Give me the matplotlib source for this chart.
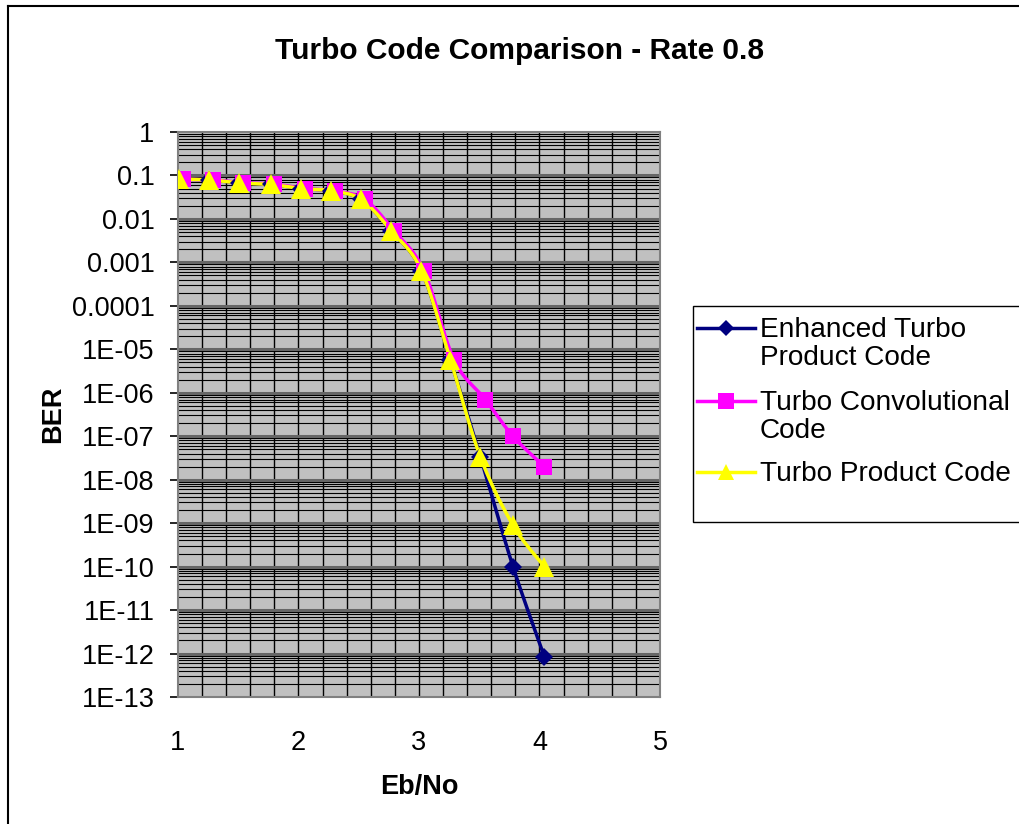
import numpy as np
import matplotlib
matplotlib.use("Agg")
import matplotlib.pyplot as plt
from matplotlib.lines import Line2D
from matplotlib.patches import Rectangle

plt.rcParams['font.family'] = ['Liberation Sans', 'DejaVu Sans']

# data
ebno = [1.01, 1.26, 1.51, 1.77, 2.02, 2.27, 2.52, 2.77, 3.02, 3.26, 3.51, 3.78, 4.04]
ebno_tcc = [1.04, 1.29, 1.54, 1.80, 2.05, 2.30, 2.55, 2.79, 3.04, 3.29, 3.55, 3.78, 4.04]
ber_etpc = [0.082, 0.079, 0.067, 0.062, 0.050, 0.044, 0.028, 0.0053, 6.5e-4, 5.8e-6, 3.3e-8, 1.0e-10, 8.5e-13]
ber_tcc = [0.082, 0.079, 0.068, 0.063, 0.050, 0.044, 0.028, 0.0054, 6.5e-4, 5.8e-6, 7.0e-7, 1.0e-7, 2.0e-8]
ber_tpc = [0.082, 0.079, 0.067, 0.062, 0.050, 0.044, 0.028, 0.0053, 6.5e-4, 5.8e-6, 3.3e-8, 9.0e-10, 1.0e-10]

names = ["Enhanced Turbo\nProduct Code", "Turbo Convolutional\nCode", "Turbo Product Code"]
colors = ["#000080", "#FF00FF", "#FFFF00"]
markers = ["D", "s", "^"]
ytick_labels = ["1", "0.1", "0.01", "0.001", "0.0001", "1E-05", "1E-06", "1E-07",
                "1E-08", "1E-09", "1E-10", "1E-11", "1E-12", "1E-13"]

W, H = 1020.0, 824.0


def fx(px):
    return px / W


def fy(py):
    return 1 - py / H


# Excel style smoothed line (Catmull-Rom through the points, in x / log y)
def smooth(x, y, n=20):
    px = np.array(x, dtype=float)
    py = np.log10(np.array(y, dtype=float))
    P = np.column_stack([px, py])
    P = np.vstack([P[0], P, P[-1]])
    out = []
    for i in range(1, len(P) - 2):
        p0, p1, p2, p3 = P[i - 1], P[i], P[i + 1], P[i + 2]
        c1 = p1 + (p2 - p0) / 6.0
        c2 = p2 - (p3 - p1) / 6.0
        t = np.linspace(0, 1, n)[:, None]
        seg = (1 - t) ** 3 * p1 + 3 * (1 - t) ** 2 * t * c1 + 3 * (1 - t) * t ** 2 * c2 + t ** 3 * p2
        out.append(seg)
    out = np.vstack(out)
    return out[:, 0], 10 ** out[:, 1]


fig = plt.figure(figsize=(10.2, 8.24), dpi=100)
ax = fig.add_axes([fx(178), fy(697), (660 - 178) / W, (697 - 132) / H])
ax.set_facecolor("#C0C0C0")
ax.set_yscale("log")
ax.set_xlim(1, 5)
ax.set_ylim(1e-13, 1)

# grid
for xv in np.arange(1.2, 5.0, 0.2):
    ax.axvline(xv, color="black", lw=1.0, zorder=1)
for k in range(-13, 0):
    for m in range(2, 10):
        ax.axhline(m * 10.0 ** k, color="black", lw=0.8, zorder=1)
    if k > -13:
        ax.axhline(10.0 ** k, color="#666666", lw=2.2, zorder=1)

series = [(ebno, ber_etpc), (ebno_tcc, ber_tcc), (ebno, ber_tpc)]
sizes = {"D": 9, "s": 12, "^": 14}
for (xs, ys), c, mk in zip(series, colors, markers):
    sx, sy = smooth(xs, ys)
    ax.plot(sx, sy, color=c, lw=2.5, zorder=3)
    ax.plot(xs, ys, ls="none", marker=mk, color=c, markersize=sizes[mk], zorder=4,
            markeredgewidth=0)

ax.set_yticks([10.0 ** (-k) for k in range(14)])
ax.set_yticklabels(ytick_labels)
ax.yaxis.set_minor_locator(matplotlib.ticker.NullLocator())
ax.set_xticks([1, 2, 3, 4, 5])
ax.set_xticklabels(["1", "2", "3", "4", "5"])
ax.tick_params(axis="y", direction="out", length=6, width=1.2, labelsize=19.5, pad=11)
ax.tick_params(axis="x", length=0, labelsize=19.5, pad=24)
for s in ax.spines.values():
    s.set_color("#808080")
    s.set_linewidth(1.5)

ax.set_xlabel("Eb/No", fontsize=19.5, fontweight="bold", labelpad=13)
ax.set_ylabel("BER", fontsize=19.5, fontweight="bold", labelpad=4)
fig.text(fx(520), fy(51), "Turbo Code Comparison - Rate 0.8", ha="center", va="center",
         fontsize=21.5, fontweight="bold")

# legend box drawn by hand to match the original layout
fig.add_artist(Rectangle((fx(693), fy(522)), (1030 - 693) / W, (522 - 306) / H,
                         transform=fig.transFigure, facecolor="white", edgecolor="black",
                         lw=1.0))
leg_y = [328, 401, 472]
leg_ms = {"D": 8, "s": 11, "^": 12}
for name, c, mk, ly in zip(names, colors, markers, leg_y):
    fig.add_artist(Line2D([fx(697), fx(755)], [fy(ly), fy(ly)], color=c, lw=2.5,
                          transform=fig.transFigure))
    fig.add_artist(Line2D([fx(726)], [fy(ly)], color=c, marker=mk, markersize=leg_ms[mk],
                          markeredgewidth=0, transform=fig.transFigure))
    fig.text(fx(760), fy(ly - 11), name, ha="left", va="top", fontsize=20.2,
             linespacing=1.12)

# outer chart border
fig.add_artist(Line2D([fx(8), fx(8)], [0, fy(6)], color="black", lw=1.5,
                      transform=fig.transFigure))
fig.add_artist(Line2D([fx(8), 1], [fy(6), fy(6)], color="black", lw=1.5,
                      transform=fig.transFigure))

fig.savefig("out.png", dpi=100)
